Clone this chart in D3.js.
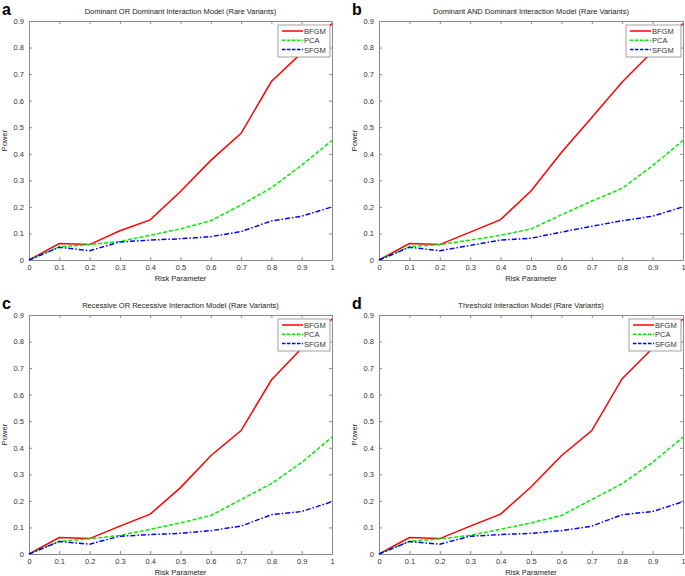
<!DOCTYPE html>
<html lang="en">

<head>
    <meta charset="UTF-8">
    <title>Power vs Risk Parameter</title>
    <script src="https://cdn.jsdelivr.net/npm/d3@7"></script>
    <style>
        body { margin: 0; background: #fff; }
        svg { display: block; font-family: 'Liberation Sans', Arial, sans-serif; }
    </style>
</head>

<body>
    <script>
        // x values shared by all four panels
        const riskParam = [0, 0.1, 0.2, 0.3, 0.4, 0.5, 0.6, 0.7, 0.8, 0.9, 1];

        const xTicks = [0, 0.1, 0.2, 0.3, 0.4, 0.5, 0.6, 0.7, 0.8, 0.9, 1];
        const yTicks = [0, 0.1, 0.2, 0.3, 0.4, 0.5, 0.6, 0.7, 0.8, 0.9];

        const seriesNames = ['BFGM', 'PCA', 'SFGM'];

        // panel a
        const bfgmA = [0, 0.062, 0.058, 0.11, 0.151, 0.258, 0.375, 0.477, 0.672, 0.78, 0.89];
        const pcaA = [0, 0.05, 0.058, 0.07, 0.093, 0.117, 0.148, 0.207, 0.272, 0.357, 0.45];
        const sfgmA = [0, 0.048, 0.035, 0.068, 0.075, 0.08, 0.088, 0.107, 0.147, 0.165, 0.2];

        // panel b
        const bfgmB = [0, 0.062, 0.058, 0.105, 0.152, 0.26, 0.405, 0.537, 0.67, 0.785, 0.89];
        const pcaB = [0, 0.05, 0.058, 0.075, 0.093, 0.117, 0.17, 0.222, 0.27, 0.355, 0.45];
        const sfgmB = [0, 0.048, 0.035, 0.055, 0.075, 0.082, 0.105, 0.127, 0.148, 0.165, 0.2];

        // panel c
        const bfgmC = [0, 0.062, 0.058, 0.105, 0.15, 0.25, 0.37, 0.465, 0.655, 0.775, 0.885];
        const pcaC = [0, 0.048, 0.057, 0.07, 0.093, 0.117, 0.145, 0.205, 0.265, 0.345, 0.44];
        const sfgmC = [0, 0.047, 0.037, 0.067, 0.073, 0.078, 0.088, 0.105, 0.148, 0.16, 0.197];

        // panel d
        const bfgmD = [0, 0.062, 0.058, 0.105, 0.15, 0.252, 0.37, 0.465, 0.66, 0.775, 0.885];
        const pcaD = [0, 0.048, 0.057, 0.07, 0.093, 0.117, 0.145, 0.205, 0.265, 0.345, 0.44];
        const sfgmD = [0, 0.047, 0.037, 0.067, 0.073, 0.078, 0.088, 0.105, 0.148, 0.16, 0.197];

        const panels = [
            { letter: 'a', title: 'Dominant OR Dominant Interaction Model (Rare Variants)', series: [bfgmA, pcaA, sfgmA],
              left: 29, right: 332, top: 21, bottom: 260, legendW: 52 },
            { letter: 'b', title: 'Dominant AND Dominant Interaction Model (Rare Variants)', series: [bfgmB, pcaB, sfgmB],
              left: 379, right: 683, top: 21, bottom: 260, legendW: 55 },
            { letter: 'c', title: 'Recessive OR Recessive Interaction Model (Rare Variants)', series: [bfgmC, pcaC, sfgmC],
              left: 29, right: 332, top: 315, bottom: 554, legendW: 52 },
            { letter: 'd', title: 'Threshold Interaction Model (Rare Variants)', series: [bfgmD, pcaD, sfgmD],
              left: 379, right: 683, top: 315, bottom: 554, legendW: 52 }
        ];

        const colors = ['#ff0000', '#00ee00', '#0000ff'];
        const dashes = [null, '4,2', '5,2,1.5,2'];

        const svg = d3.select('body')
            .append('svg')
            .attr('width', 685)
            .attr('height', 576);

        panels.forEach(p => {
            const x = d3.scaleLinear().domain([0, 1]).range([p.left, p.right]);
            const y = d3.scaleLinear().domain([0, 0.9]).range([p.bottom, p.top]);
            const g = svg.append('g');

            // white plot area
            g.append('rect')
                .attr('x', p.left).attr('y', p.top)
                .attr('width', p.right - p.left).attr('height', p.bottom - p.top)
                .attr('fill', '#fff');

            // axes, MATLAB style: ticks inside, box all round
            const fmt = d => d3.format('~g')(d);
            const axisStyle = sel => {
                sel.select('.domain').attr('stroke', '#8a8a8a');
                sel.selectAll('.tick line').attr('stroke', '#8a8a8a');
                sel.selectAll('.tick text')
                    .attr('fill', '#333')
                    .style('font-size', '7.5px')
                    .style('font-family', "'Liberation Sans', Arial, sans-serif");
            };

            g.append('g')
                .attr('transform', `translate(0,${p.bottom})`)
                .call(d3.axisBottom(x).tickValues(xTicks).tickFormat(fmt).tickSizeInner(-3).tickSizeOuter(0).tickPadding(5))
                .call(axisStyle);
            g.append('g')
                .attr('transform', `translate(0,${p.top})`)
                .call(d3.axisTop(x).tickValues(xTicks).tickFormat('').tickSizeInner(-3).tickSizeOuter(0))
                .call(axisStyle);
            g.append('g')
                .attr('transform', `translate(${p.left},0)`)
                .call(d3.axisLeft(y).tickValues(yTicks).tickFormat(fmt).tickSizeInner(-3).tickSizeOuter(0).tickPadding(5))
                .call(axisStyle);
            g.append('g')
                .attr('transform', `translate(${p.right},0)`)
                .call(d3.axisRight(y).tickValues(yTicks).tickFormat('').tickSizeInner(-3).tickSizeOuter(0))
                .call(axisStyle);

            // series lines
            const line = d3.line()
                .x((d, i) => x(riskParam[i]))
                .y(d => y(d));

            p.series.forEach((s, k) => {
                g.append('path')
                    .datum(s)
                    .attr('d', line)
                    .attr('fill', 'none')
                    .attr('stroke', colors[k])
                    .attr('stroke-width', 1.5)
                    .attr('stroke-dasharray', dashes[k]);
            });

            // title
            g.append('text')
                .attr('x', (p.left + p.right) / 2)
                .attr('y', p.top - 7)
                .attr('text-anchor', 'middle')
                .style('font-size', '7.5px')
                .attr('fill', '#222')
                .text(p.title);

            // panel letter
            g.append('text')
                .attr('x', p.left - 27)
                .attr('y', p.top - 6)
                .style('font-size', '16px')
                .style('font-weight', 'bold')
                .text(p.letter);

            // axis labels
            g.append('text')
                .attr('x', (p.left + p.right) / 2)
                .attr('y', p.bottom + 21)
                .attr('text-anchor', 'middle')
                .style('font-size', '7.5px')
                .attr('fill', '#222')
                .text('Risk Parameter');

            g.append('text')
                .attr('transform', `translate(${p.left - 22},${(p.top + p.bottom) / 2}) rotate(-90)`)
                .attr('text-anchor', 'middle')
                .style('font-size', '7.5px')
                .attr('fill', '#222')
                .text('Power');

            // legend
            const lx = p.right - 2 - p.legendW;
            const ly = p.top + 4;
            const legend = g.append('g').attr('transform', `translate(${lx},${ly})`);
            legend.append('rect')
                .attr('width', p.legendW).attr('height', 32)
                .attr('fill', '#fff')
                .attr('stroke', '#8a8a8a')
                .attr('stroke-width', 0.8);

            seriesNames.forEach((name, k) => {
                const yy = 6 + k * 9.3;
                legend.append('line')
                    .attr('x1', 4).attr('x2', 25)
                    .attr('y1', yy).attr('y2', yy)
                    .attr('stroke', colors[k])
                    .attr('stroke-width', 1.5)
                    .attr('stroke-dasharray', k === 0 ? null : '3.5,1.5');
                legend.append('text')
                    .attr('x', 26)
                    .attr('y', yy + 3)
                    .style('font-size', '7.5px')
                    .attr('fill', '#333')
                    .text(name);
            });
        });
    </script>
</body>

</html>
